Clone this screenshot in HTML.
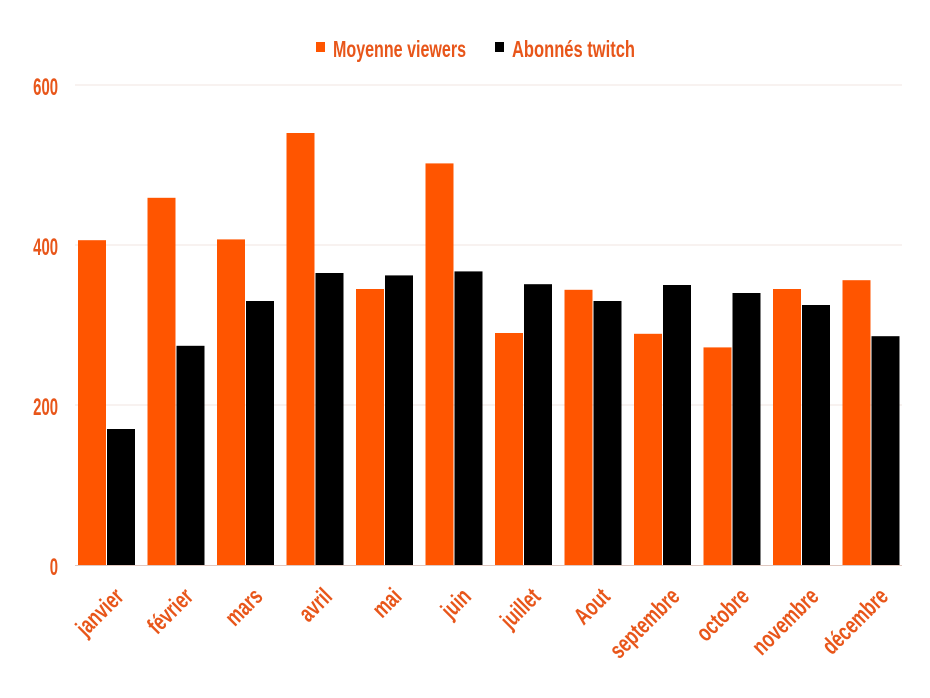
<!DOCTYPE html>
<html><head><meta charset="utf-8"><style>
html,body{margin:0;padding:0;background:#fff;}
svg{display:block;}
text{font-family:"Liberation Sans",sans-serif;font-weight:bold;fill:#e8561a;}
</style></head><body>
<svg width="930" height="698" viewBox="0 0 930 698">
<g stroke="#f0e4e0" stroke-width="1">
<line x1="75" y1="85" x2="902" y2="85"/>
<line x1="75" y1="245" x2="902" y2="245"/>
<line x1="75" y1="405" x2="902" y2="405"/>
</g>
<g font-size="24" text-anchor="end">
<text transform="translate(58 95) scale(0.62 1)">600</text>
<text transform="translate(58 255) scale(0.62 1)">400</text>
<text transform="translate(58 415) scale(0.62 1)">200</text>
<text transform="translate(58 575) scale(0.62 1)">0</text>
</g>
<rect x="316" y="42" width="9" height="10" fill="#ff5500"/>
<text x="333" y="57" font-size="23" textLength="133" lengthAdjust="spacingAndGlyphs">Moyenne viewers</text>
<rect x="495" y="42" width="9" height="10" fill="#000"/>
<text x="512" y="57" font-size="23" textLength="123" lengthAdjust="spacingAndGlyphs">Abonnés twitch</text>
<g id="bars"></g>
<line x1="75" y1="565.5" x2="902" y2="565.5" stroke="#e0c8c0" stroke-width="1"/>
<g id="labels" font-size="24" text-anchor="end"></g>
</svg>
<script>
var o=[406,459,407,540,345,502,290,344,289,272,345,356];
var b=[170,274,330,365,362,367,351,330,350,340,325,286];
var m=["janvier","février","mars","avril","mai","juin","juillet","Aout","septembre","octobre","novembre","décembre"];
var ns="http://www.w3.org/2000/svg",g=document.getElementById("bars"),L=document.getElementById("labels");
for(var i=0;i<12;i++){
 var x=78+69.5*i;
 [[o[i],"#ff5500",0],[b[i],"#000",29]].forEach(function(d){
  var r=document.createElementNS(ns,"rect");
  var h=d[0]*0.8;
  r.setAttribute("x",x+d[2]);r.setAttribute("y",565-h);r.setAttribute("width",28);r.setAttribute("height",h);r.setAttribute("fill",d[1]);g.appendChild(r);
 });
 var t=document.createElementNS(ns,"text");
 var tx=x+47,ty=598;
 t.setAttribute("transform","translate("+tx+" "+ty+") rotate(-45) scale(0.72 1)");
 t.textContent=m[i];L.appendChild(t);
}
</script>
</body></html>
